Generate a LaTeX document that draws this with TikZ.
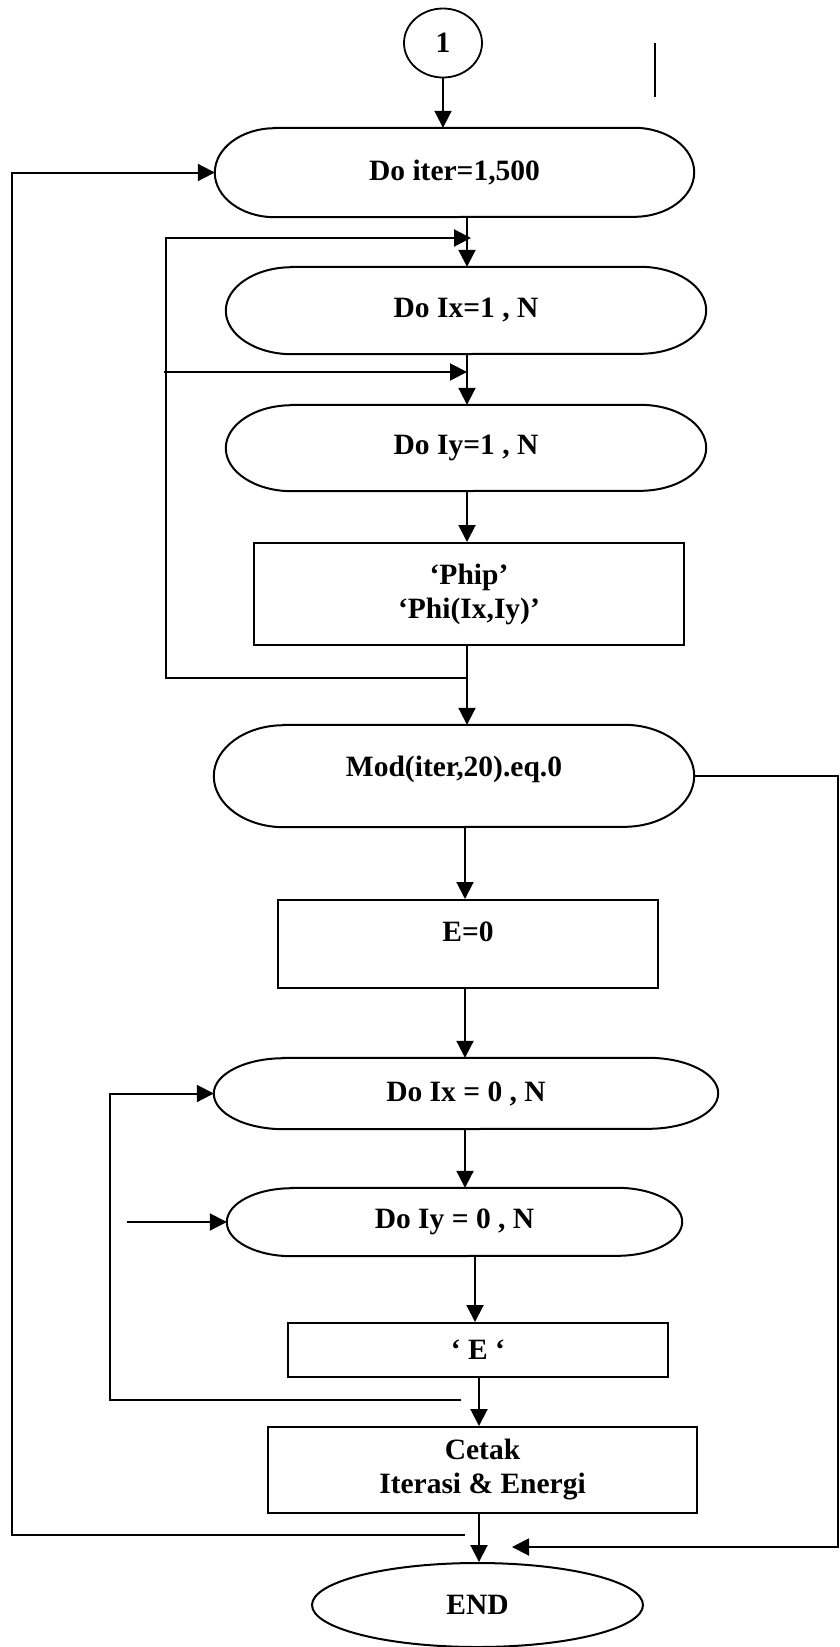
\documentclass[tikz,border=0pt]{standalone}
\usepackage{fontspec}
\setmainfont{Liberation Serif}
\usetikzlibrary{arrows.meta,shapes.geometric}
\tikzset{
  every node/.style={font=\bfseries\fontsize{29.5}{34}\selectfont, inner sep=0pt},
  box/.style={draw, line width=2pt, rectangle, align=center},
  loopnode/.style={rectangle, align=center},
  flow/.style={line width=2pt, -{Triangle[length=17pt,width=17pt]}},
  plain/.style={line width=2pt},
  outline/.style={line width=2pt},
}
\newcommand\stadium[3]{\draw[outline] ([xshift=#2]#1.north west) -- ([xshift=-#2]#1.north east) arc[start angle=90,end angle=-90,x radius=#2,y radius=#3] -- ([xshift=#2]#1.south west) arc[start angle=270,end angle=90,x radius=#2,y radius=#3] -- cycle;}
\begin{document}
\begin{tikzpicture}[x=1pt,y=-1pt]
\useasboundingbox (0,0) rectangle (839,1647);
\fill[white] (0,0) rectangle (839,1647);

% nodes
\node[ellipse, draw, line width=1.8pt, minimum width=78pt, minimum height=69pt] (c1) at (443,43) {1};
\draw[plain] (655,43) -- (655,97);

\node[loopnode, minimum width=479pt, minimum height=89pt] (iter) at (454.5,172.5) {Do iter=1,500};
\stadium{iter}{60pt}{44.5pt}
\node[loopnode, minimum width=480pt, minimum height=87pt] (ix1) at (466,310.5) {Do Ix=1 , N};
\stadium{ix1}{66pt}{43.5pt}
\node[loopnode, minimum width=480pt, minimum height=86pt] (iy1) at (466,448) {Do Iy=1 , N};
\stadium{iy1}{66pt}{43pt}
\node[box, minimum width=430pt, minimum height=102pt] (phip) at (469,594) {‘Phip’\\‘Phi(Ix,Iy)’};
\node[loopnode, minimum width=480pt, minimum height=102pt] (mod) at (454,776) {};
\stadium{mod}{70pt}{51pt}
\node (modt) at (454,769) {Mod(iter,20).eq.0};
\node[box, minimum width=380pt, minimum height=88pt] (e0) at (468,944) {};
\node (e0t) at (468,932) {E=0};
\node[loopnode, minimum width=504pt, minimum height=71pt] (ix0) at (466,1093.5) {Do Ix = 0 , N};
\stadium{ix0}{70pt}{35.5pt}
\node[loopnode, minimum width=455pt, minimum height=68pt] (iy0) at (454.5,1222) {Do Iy = 0 , N};
\stadium{iy0}{65pt}{34pt}
\node[box, minimum width=380pt, minimum height=54pt] (ebox) at (478,1350) {‘ E ‘};
\node[box, minimum width=429pt, minimum height=86pt] (cetak) at (482.5,1470) {Cetak\\Iterasi \& Energi};
\node[ellipse, draw, line width=2pt, minimum width=331pt, minimum height=84pt] (end) at (477.5,1605) {END};

% column coordinates
\coordinate (colA) at (467,0);
\coordinate (colB) at (465,0);
\coordinate (colC) at (475,0);
\coordinate (colD) at (479,0);

% main flow
\draw[flow] (c1.south) -- (c1.south |- iter.north);
\draw[flow] (colA |- iter.south) -- (colA |- ix1.north);
\draw[flow] (colA |- ix1.south) -- (colA |- iy1.north);
\draw[flow] (colA |- iy1.south) -- (colA |- phip.north);
\draw[flow] (colA |- phip.south) -- (colA |- mod.north);
\draw[flow] (colB |- mod.south) -- (colB |- e0.north);
\draw[flow] (colB |- e0.south) -- (colB |- ix0.north);
\draw[flow] (colB |- ix0.south) -- (colB |- iy0.north);
\draw[flow] (colC |- iy0.south) -- (colC |- ebox.north);
\draw[flow] (colD |- ebox.south) -- (colD |- cetak.north);
\draw[flow] (colD |- cetak.south) -- (colD |- end.north);

% inner loop (Ix, Iy = 1..N)
\coordinate (j1) at (467,678);
\coordinate (l1b) at (166,678);
\coordinate (l1t) at (166,238);
\coordinate (l1e) at (471,238);
\draw[flow] (j1) -- (l1b) -- (l1t) -- (l1e);
\coordinate (l2s) at (164,372);
\coordinate (l2e) at (467,372);
\draw[flow] (l2s) -- (l2e);

% energy loop
\coordinate (k1) at (461,1400);
\coordinate (k2) at (110,1400);
\draw[flow] (k1) -- (k2) -- (k2 |- ix0.west) -- (ix0.west);
\coordinate (m1) at (127,1222);
\draw[flow] (m1) -- (iy0.west);

% outer loop
\coordinate (o1) at (465,1535);
\coordinate (o2) at (12,1535);
\draw[flow] (o1) -- (o2) -- (o2 |- iter.west) -- (iter.west);

% right branch
\coordinate (r1) at (838,0);
\coordinate (r2) at (838,1547);
\coordinate (r3) at (512,1547);
\draw[flow] (mod.east) -- (mod.east -| r1) -- (r2) -- (r3);
\end{tikzpicture}
\end{document}
